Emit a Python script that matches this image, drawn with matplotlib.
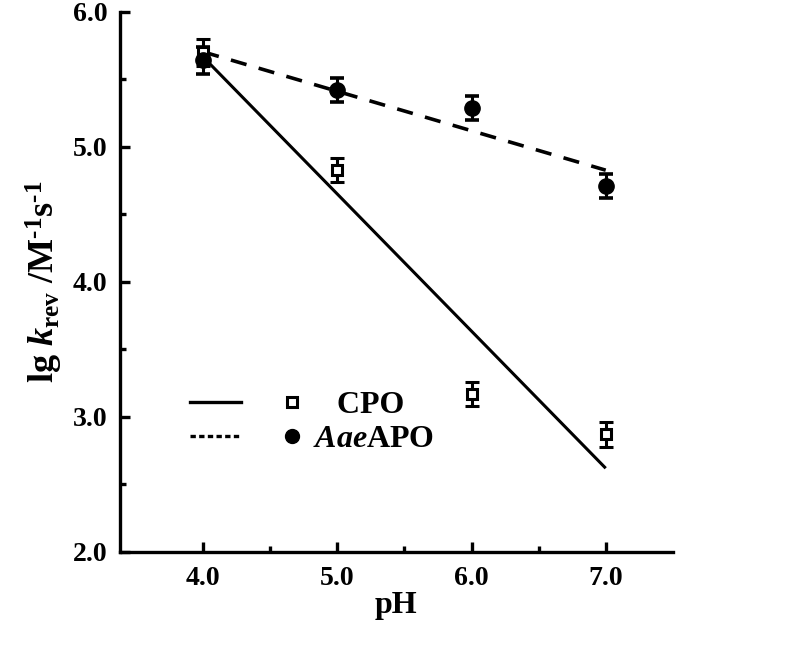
import numpy as np
import matplotlib
matplotlib.use("Agg")
import matplotlib.pyplot as plt
from matplotlib.lines import Line2D
from matplotlib.legend_handler import HandlerTuple

# data
ph = [4.0, 5.0, 6.0, 7.0]
cpo = [5.70, 4.83, 3.17, 2.87]
cpo_err = [0.10, 0.09, 0.09, 0.09]
aae = [5.64, 5.42, 5.29, 4.71]
aae_err = [0.10, 0.09, 0.09, 0.09]

plt.rcParams['font.family'] = 'Liberation Serif'
plt.rcParams['font.weight'] = 'bold'
plt.rcParams['mathtext.fontset'] = 'custom'
plt.rcParams['mathtext.rm'] = 'Liberation Serif:bold'
plt.rcParams['mathtext.it'] = 'Liberation Serif:bold:italic'
plt.rcParams['mathtext.bf'] = 'Liberation Serif:bold'

fig = plt.figure(figsize=(8, 6.54), dpi=100)
ax = fig.add_axes([0.15, 0.156, 0.691, 0.826])

# linear fits
xs = np.array([ph[0], ph[-1]])
p1 = np.polyfit(ph, cpo, 1)
p2 = np.polyfit(ph, aae, 1)
ax.plot(xs, np.polyval(p1, xs), color='black', lw=2.2, solid_capstyle='butt')
ax.plot(xs, np.polyval(p2, xs), color='black', lw=2.6, dashes=(4.5, 3.5))

ax.errorbar(ph, cpo, yerr=cpo_err, fmt='s', ms=7, mfc='white', mec='black',
            mew=2.2, ecolor='black', elinewidth=2.2, capsize=5, capthick=2.6, zorder=3)
ax.errorbar(ph, aae, yerr=aae_err, fmt='o', ms=11, mfc='black', mec='black',
            ecolor='black', elinewidth=2.2, capsize=5, capthick=2.6, zorder=3)

ax.set_xlim(3.38, 7.5)
ax.set_ylim(2.0, 6.0)
ax.set_xticks([4, 5, 6, 7])
ax.set_xticks([4.5, 5.5, 6.5], minor=True)
ax.set_xticklabels(['4.0', '5.0', '6.0', '7.0'])
ax.set_yticks([2, 3, 4, 5, 6])
ax.set_yticks([2.5, 3.5, 4.5, 5.5], minor=True)
ax.set_yticklabels(['2.0', '3.0', '4.0', '5.0', '6.0'])

for s in ['top', 'right']:
    ax.spines[s].set_visible(False)
for s in ['left', 'bottom']:
    ax.spines[s].set_linewidth(2.4)
ax.tick_params(which='major', direction='in', length=7, width=2.4, labelsize=20)
ax.tick_params(which='minor', direction='in', length=4, width=2.4)
ax.tick_params(axis='x', which='major', pad=10)
ax.tick_params(axis='y', which='major', pad=9)
for lab in ax.get_xticklabels() + ax.get_yticklabels():
    lab.set_fontweight('bold')

ax.set_xlabel('pH', fontsize=23, fontweight='bold', labelpad=0)
ax.set_ylabel(r'lg $\mathit{k}_{\mathrm{rev}}$ /M$^{\text{-1}}$s$^{\text{-1}}$',
              fontsize=26, fontweight='bold', labelpad=6)

# legend: line + marker side by side
h_line1 = Line2D([], [], color='black', lw=2.4)
h_mark1 = Line2D([], [], ls='none', marker='s', ms=7, mfc='white', mec='black', mew=2.2)
h_line2 = Line2D([], [], color='black', lw=2.4, dashes=(1.6, 1.0))
h_mark2 = Line2D([], [], ls='none', marker='o', ms=10, mfc='black', mec='black')
leg = ax.legend([(h_line1, h_mark1), (h_line2, h_mark2)],
                ['   CPO', r'$\mathit{Aae}$APO'],
                handler_map={tuple: HandlerTuple(ndivide=None, pad=0.8)},
                handlelength=4.0, handletextpad=-0.15, frameon=False,
                loc='upper left', bbox_to_anchor=(0.075, 0.352),
                prop={'family': 'Liberation Serif', 'weight': 'bold', 'size': 23},
                labelspacing=0.15)

fig.savefig('out.png', dpi=100)
